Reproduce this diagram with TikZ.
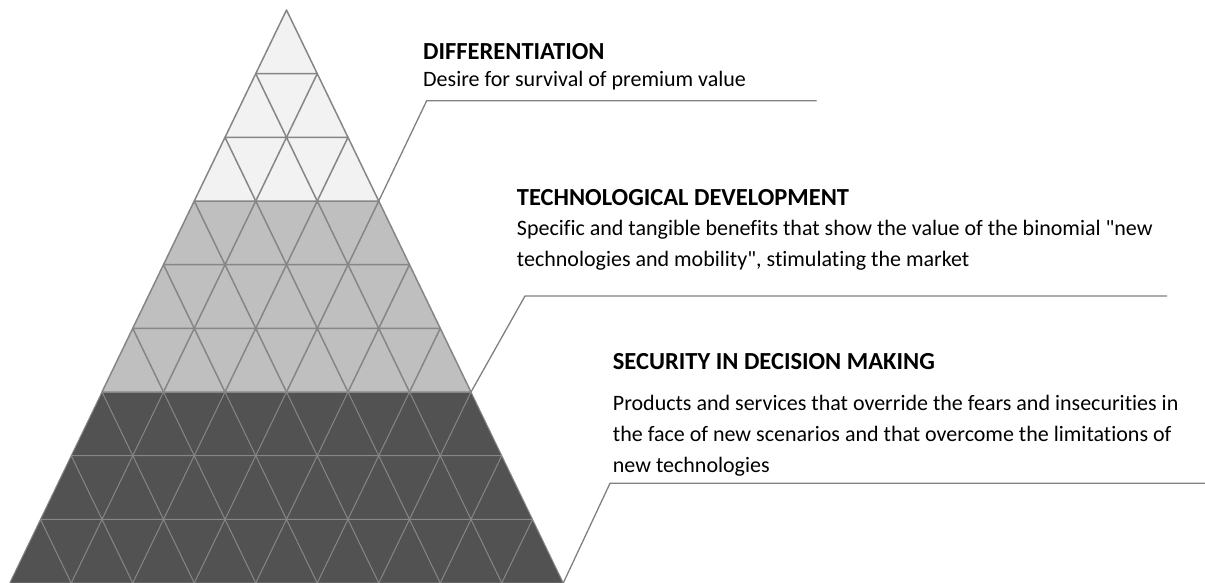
\documentclass[tikz,border=0pt]{standalone}
\usepackage{fontspec}
\setmainfont{Carlito}[Ligatures={NoCommon,TeXOff}]
\usepackage{tikz}
\usepackage{xcolor}

\definecolor{lightband}{RGB}{242,242,242}
\definecolor{midband}{RGB}{191,191,191}
\definecolor{darkband}{RGB}{82,82,82}
\definecolor{gridgray}{RGB}{134,134,134}
\definecolor{leadgray}{RGB}{128,128,128}

\newcommand{\rowh}{63.67}
\newcommand{\halfw}{30.75}

\tikzset{
  title/.style={anchor=base west, inner sep=0pt, font=\fontsize{24.5}{30}\selectfont\bfseries},
  body/.style={anchor=base west, inner sep=0pt, align=left, font=\fontsize{22}{31}\selectfont},
  leader/.style={draw=leadgray, line width=1.3pt},
  gridline/.style={draw=gridgray, line width=1.5pt, line join=round},
  thingrid/.style={draw=gridgray, line width=1pt, line join=round}
}

\begin{document}
\begin{tikzpicture}[x=1pt, y=-1pt]
        \useasboundingbox (0,0) rectangle (1205,583);

        % Eckpunkte der Pyramide
        \coordinate (apex) at (286.5,10);
        \coordinate (l3) at (286.5-3*\halfw,10+3*\rowh);
        \coordinate (r3) at (286.5+3*\halfw,10+3*\rowh);
        \coordinate (l6) at (286.5-6*\halfw,10+6*\rowh);
        \coordinate (r6) at (286.5+6*\halfw,10+6*\rowh);
        \coordinate (l9) at (286.5-9*\halfw,10+9*\rowh);
        \coordinate (r9) at (286.5+9*\halfw,10+9*\rowh);

        % Farbbänder
        \fill[lightband] (apex) -- (l3) -- (r3) -- cycle;
        \fill[midband] (l3) -- (r3) -- (r6) -- (l6) -- cycle;
        \fill[darkband] (l6) -- (r6) -- (r9) -- (l9) -- cycle;

        % Dreiecksraster
        \foreach \k in {0,...,5} {
          \foreach \j in {0,...,\k} {
            \draw[gridline] ({286.5+\halfw*(2*\j-\k)},{10+\rowh*\k})
              -- ({286.5+\halfw*(2*\j-\k-1)},{10+\rowh*(\k+1)})
              -- ({286.5+\halfw*(2*\j-\k+1)},{10+\rowh*(\k+1)}) -- cycle;
          }
        }
        \foreach \k in {6,...,8} {
          \foreach \j in {0,...,\k} {
            \draw[thingrid] ({286.5+\halfw*(2*\j-\k)},{10+\rowh*\k})
              -- ({286.5+\halfw*(2*\j-\k-1)},{10+\rowh*(\k+1)})
              -- ({286.5+\halfw*(2*\j-\k+1)},{10+\rowh*(\k+1)}) -- cycle;
          }
        }

        % Texte (Basislinie der letzten Zeile)
        \node[title] at (423,59.3) (diff) {DIFFERENTIATION};
        \node[body] at (423,86.7) (diffdesc) {Desire for survival of premium value};
        \node[title] at (516.7,205) (tech) {TECHNOLOGICAL DEVELOPMENT};
        \node[body] at (516.7,266) (techdesc) {Specific and tangible benefits that show the value of the binomial "new\\technologies and mobility", stimulating the market};
        \node[title] at (612.7,369.3) (secu) {SECURITY IN DECISION MAKING};
        \node[body] at (612.7,472) (secudesc) {Products and services that override the fears and insecurities in\\the face of new scenarios and that overcome the limitations of\\new technologies};

        % Hinweislinien
        \coordinate (k1) at (426.7,100.7);
        \coordinate (e1) at (816.7,100.7);
        \coordinate (k2) at (525,296);
        \coordinate (e2) at (1167,296);
        \coordinate (k3) at (610,483.3);
        \coordinate (e3) at (1205,483.3);
        \draw[leader] (r3) -- (k1) -- (e1);
        \draw[leader] (r6) -- (k2) -- (e2);
        \draw[leader] (r9) -- (k3) -- (e3);

    \end{tikzpicture}
\end{document}
